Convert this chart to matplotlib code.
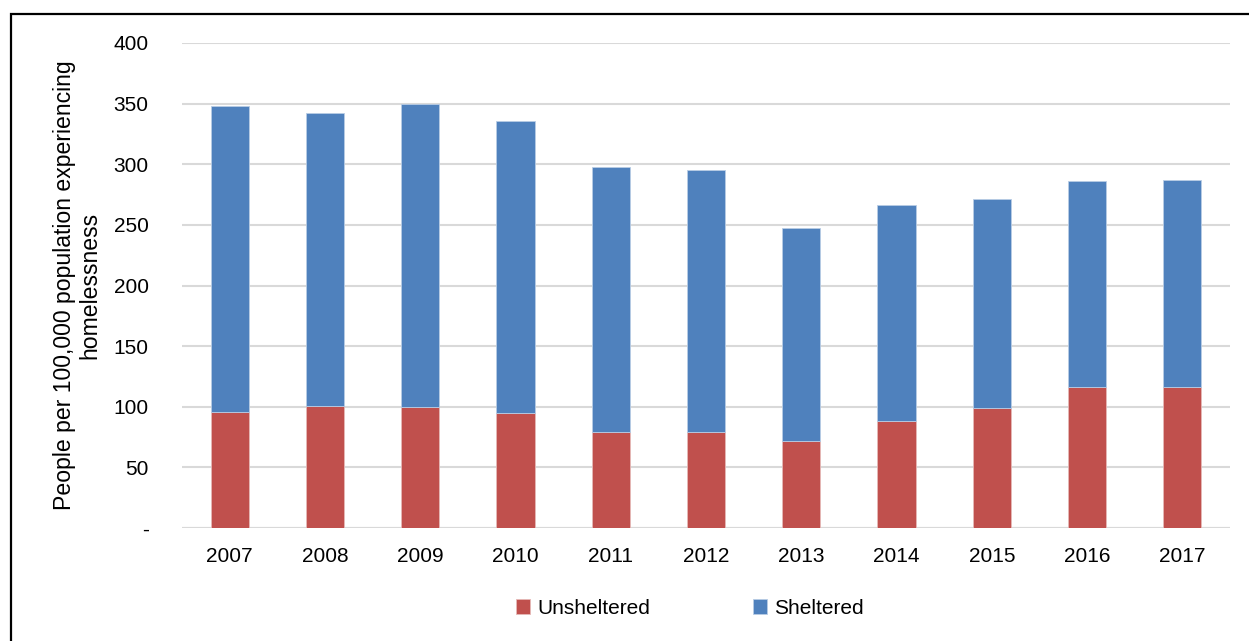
import matplotlib.pyplot as plt
import matplotlib.patches as patches
import numpy as np

years = ['2007', '2008', '2009', '2010', '2011', '2012', '2013', '2014', '2015', '2016', '2017']
unsheltered = [96, 101, 100, 95, 79.5, 79, 72, 88.5, 99, 116, 116]
sheltered = [252, 241, 250, 241, 218, 216, 175.5, 178, 172, 170, 171]
yticks = [0, 50, 100, 150, 200, 250, 300, 350, 400]
ytick_labels = ['-', '50', '100', '150', '200', '250', '300', '350', '400']

plt.rcParams['font.family'] = ['Liberation Sans', 'DejaVu Sans']

def main():
    fig = plt.figure(figsize=(12.49, 6.41), dpi=100)
    ax = fig.add_axes([182/1249, 1 - 528/641, (1230 - 182)/1249, (528 - 43)/641])

    x = np.arange(len(years))
    w = 0.4
    ax.bar(x, unsheltered, w, color='#C0504D', edgecolor='#E6B9B8', linewidth=0.6,
           label='Unsheltered', zorder=3)
    ax.bar(x, sheltered, w, bottom=unsheltered, color='#4F81BD', edgecolor='#B9CDE5',
           linewidth=0.6, label='Sheltered', zorder=3)

    ax.set_xlim(-0.5, 10.5)
    ax.set_ylim(0, 400)
    ax.set_yticks(yticks)
    ax.set_yticklabels(ytick_labels)
    ax.set_xticks(x)
    ax.set_xticklabels(years)
    ax.tick_params(axis='both', length=0, labelsize=15, colors='#000000')
    ax.tick_params(axis='y', pad=24)
    ax.tick_params(axis='x', pad=14)
    ax.grid(axis='y', color='#D9D9D9', linewidth=1.5, zorder=0)
    for s in ['top', 'right', 'left', 'bottom']:
        ax.spines[s].set_visible(False)
    ax.axhline(0, color='#D9D9D9', linewidth=1.5, zorder=2)

    fig.text(77/1249, 1 - 285/641, 'People per 100,000 population experiencing\nhomelessness',
             rotation=90, ha='center', va='center', multialignment='center', fontsize=16.6,
             linespacing=1.1)

    fig.legend(loc='center', bbox_to_anchor=(690/1249, 1 - 608/641), ncol=2,
               frameon=False, fontsize=15, handlelength=0.7, handleheight=0.7,
               handletextpad=0.35, columnspacing=4.9)

    # outer frame (runs off the right and bottom edges)
    top = 1 - 14/641
    rect = patches.Rectangle((11/1249, -0.2), 1.2, top + 0.2,
                             transform=fig.transFigure, fill=False, edgecolor='black',
                             linewidth=1.6, clip_on=False)
    fig.patches.append(rect)

    fig.savefig('out.png', dpi=100)

if __name__ == "__main__":
    main()
